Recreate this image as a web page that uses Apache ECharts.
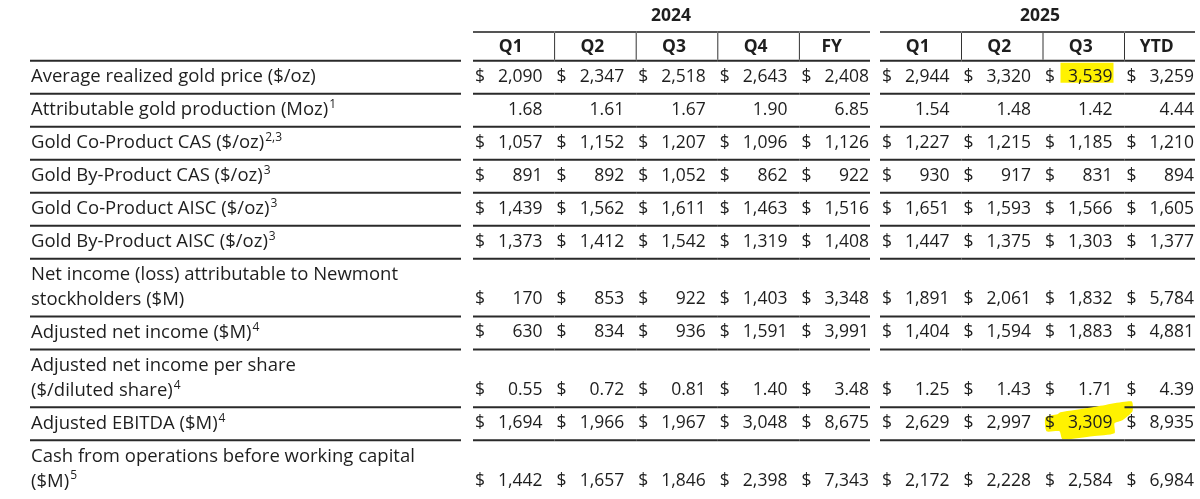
<!DOCTYPE html>
<html>
<head>
<meta charset="utf-8">
<script src="https://cdn.jsdelivr.net/npm/echarts@6/dist/echarts.min.js"></script>
<style>
  html, body { margin: 0; padding: 0; background: #fff; }
  #main { width: 1200px; height: 499px; }
</style>
</head>
<body>
<div id="main"></div>
<script>
// row labels + footnote marks
var rowLabels = [
  'Average realized gold price ($/oz)',
  'Attributable gold production (Moz)',
  'Gold Co-Product CAS ($/oz)',
  'Gold By-Product CAS ($/oz)',
  'Gold Co-Product AISC ($/oz)',
  'Gold By-Product AISC ($/oz)',
  'Net income (loss) attributable to Newmont\nstockholders ($M)',
  'Adjusted net income ($M)',
  'Adjusted net income per share\n($/diluted share)',
  'Adjusted EBITDA ($M)',
  'Cash from operations before working capital\n($M)'
];
var rowNotes = ['', '1', '2,3', '3', '3', '3', '', '4', '4', '4', '5'];
var rowDollar = [1, 0, 1, 1, 1, 1, 1, 1, 1, 1, 1];
var rowDecimals = [0, 2, 0, 0, 0, 0, 0, 0, 2, 0, 0];

var years = ['2024', '2025'];
var cols2024 = ['Q1', 'Q2', 'Q3', 'Q4', 'FY'];
var cols2025 = ['Q1', 'Q2', 'Q3', 'YTD'];

var q1_2024 = [2090, 1.68, 1057, 891, 1439, 1373, 170, 630, 0.55, 1694, 1442];
var q2_2024 = [2347, 1.61, 1152, 892, 1562, 1412, 853, 834, 0.72, 1966, 1657];
var q3_2024 = [2518, 1.67, 1207, 1052, 1611, 1542, 922, 936, 0.81, 1967, 1846];
var q4_2024 = [2643, 1.90, 1096, 862, 1463, 1319, 1403, 1591, 1.40, 3048, 2398];
var fy_2024 = [2408, 6.85, 1126, 922, 1516, 1408, 3348, 3991, 3.48, 8675, 7343];

var q1_2025 = [2944, 1.54, 1227, 930, 1651, 1447, 1891, 1404, 1.25, 2629, 2172];
var q2_2025 = [3320, 1.48, 1215, 917, 1593, 1375, 2061, 1594, 1.43, 2997, 2228];
var q3_2025 = [3539, 1.42, 1185, 831, 1566, 1303, 1832, 1883, 1.71, 3309, 2584];
var ytd_2025 = [3259, 4.44, 1210, 894, 1605, 1377, 5784, 4881, 4.39, 8935, 6984];

// highlighted cells: [year, column, row]
var marked = [['2025', 'Q3', 0], ['2025', 'Q3', 9]];

var vals2024 = [q1_2024, q2_2024, q3_2024, q4_2024, fy_2024];
var vals2025 = [q1_2025, q2_2025, q3_2025, ytd_2025];

var FONT = '17.5px "Open Sans"';
var LFONT = '18.5px "Open Sans"';
var INK = '#1e1e1e';
var RULE = '#2a2a2a';

// row heights in units (two-line rows are taller)
var HEAD_U = 0.87, PX_U = 33;
var rowTop = [], rowBot = [];
var acc = HEAD_U;
rowLabels.forEach(function (l) {
  var h = l.indexOf('\n') >= 0 ? 1.75 : 1;
  rowTop.push(acc);
  acc += h;
  rowBot.push(acc);
});
var totalU = acc;

function fmt(v, r) {
  return rowDecimals[r] ? v.toFixed(rowDecimals[r]) : v.toLocaleString('en-US');
}

function line(x1, y1, x2, y2, color, w) {
  return { type: 'line', shape: { x1: x1, y1: y1, x2: x2, y2: y2 },
    style: { stroke: color, lineWidth: w || 2 } };
}

function txt(s, x, y, align, font, extra) {
  var st = { text: s, x: x, y: y, fill: INK, font: font, align: align, verticalAlign: 'middle',
    textAlign: align, textVerticalAlign: 'middle' };
  return { type: 'text', style: Object.assign(st, extra || {}) };
}

function cellData(n) {
  var d = [];
  for (var c = 0; c < n; c++) {
    d.push([c, 0, HEAD_U, -1]);
    for (var r = 0; r < rowLabels.length; r++) d.push([c, rowTop[r], rowBot[r], r]);
  }
  return d;
}

function groupRender(year, cols, vals) {
  return function (params, api) {
    var c = api.value(0), r = api.value(3);
    var pt = api.coord([c, api.value(1)]);
    var pb = api.coord([c, api.value(2)]);
    var bw = api.size([1, 0])[0];
    var x0 = pt[0] - bw / 2, x1 = pt[0] + bw / 2;
    var last = c === cols.length - 1;
    var xe = last ? x1 - 11 : x1;
    var kids = [];
    if (r < 0) {
      kids.push(line(x0, pt[1], xe, pt[1], '#555'));
      kids.push(line(x0, pb[1], xe, pb[1], RULE));
      if (c > 0) kids.push(line(x0, pt[1] + 1, x0, pb[1] - 1, '#333', 1));
      kids.push(txt(cols[c], (x0 + xe) / 2 - 3, (pt[1] + pb[1]) / 2 + 1, 'center', 'bold 17.5px "Open Sans"'));
    } else {
      var yc = pb[1] - 17;
      var nr = x1 - 12;
      marked.forEach(function (m, k) {
        if (m[0] !== year || m[1] !== cols[c] || m[2] !== r) return;
        if (k === 0) {
          kids.push({ type: 'rect', shape: { x: nr - 52, y: yc - 14, width: 53, height: 20 },
            style: { fill: '#fff200' } });
        } else {
          var pts = [[-52, -11], [-20, -16], [19, -22], [20, -12], [10, -3], [2, 0], [2, 10],
            [-20, 13], [-50, 16], [-53, 8], [-66, 8], [-67, -6], [-55, -9]];
          kids.push({ type: 'polygon', shape: { points: pts.map(function (p) { return [nr + p[0], yc + p[1]]; }), smooth: 0.2 },
            style: { fill: '#fff200' } });
        }
      });
      if (rowDollar[r]) kids.push(txt('$', x0 + 2, yc, 'left', FONT));
      kids.push(txt(fmt(vals[c][r], r), nr, yc, 'right', FONT));
      if (r < rowLabels.length - 1) kids.push(line(x0, pb[1], xe, pb[1], RULE));
    }
    return { type: 'group', children: kids };
  };
}

function labelRender(params, api) {
  var r = api.value(3);
  var cs = params.coordSys;
  var pb = api.coord([0, api.value(2)]);
  var kids = [];
  if (r < 0) {
    kids.push(line(cs.x, pb[1], cs.x + cs.width, pb[1], RULE));
  } else {
    var s = rowLabels[r] + (rowNotes[r] ? '{s|' + rowNotes[r] + '}' : '');
    kids.push(txt(s, cs.x + 1, pb[1] - 4, 'left', LFONT, {
      verticalAlign: 'bottom', textVerticalAlign: 'bottom', lineHeight: 25,
      rich: { s: { fontSize: 12, fontFamily: 'Open Sans', fill: INK, verticalAlign: 'top', lineHeight: 25, padding: [1, 0, 0, 1] } }
    }));
    if (r < rowLabels.length - 1) kids.push(line(cs.x, pb[1], cs.x + cs.width, pb[1], RULE));
  }
  return { type: 'group', children: kids };
}

var gridH = totalU * PX_U;
var chart = echarts.init(document.getElementById('main'));

function yearAxis(idx, cats, name, pad) {
  return {
    gridIndex: idx, type: 'category', data: cats, position: 'top',
    name: name, nameLocation: 'middle', nameGap: 7,
    nameTextStyle: { fontWeight: 'bold', fontSize: 17.5, color: INK, fontFamily: 'Open Sans', padding: pad },
    axisLine: { show: false }, axisTick: { show: false }, axisLabel: { show: false }, splitLine: { show: false }
  };
}

function rowAxis(idx) {
  return { gridIndex: idx, type: 'value', inverse: true, min: 0, max: totalU, show: false };
}

chart.setOption({
  animation: false,
  backgroundColor: '#fff',
  grid: [
    { left: 30, top: 32, width: 431, height: gridH, outerBoundsMode: 'none' },
    { left: 473, top: 32, width: 408, height: gridH, outerBoundsMode: 'none' },
    { left: 880, top: 32, width: 326, height: gridH, outerBoundsMode: 'none' }
  ],
  xAxis: [
    { gridIndex: 0, type: 'category', data: [''], show: false },
    yearAxis(1, cols2024, years[0], [0, 12, 0, 0]),
    yearAxis(2, cols2025, years[1], [0, 6, 0, 0])
  ],
  yAxis: [rowAxis(0), rowAxis(1), rowAxis(2)],
  series: [
    { type: 'custom', xAxisIndex: 0, yAxisIndex: 0, renderItem: labelRender, data: cellData(1),
      encode: { x: 0, y: [1, 2] }, clip: false, silent: true },
    { type: 'custom', xAxisIndex: 1, yAxisIndex: 1, renderItem: groupRender(years[0], cols2024, vals2024),
      data: cellData(cols2024.length), encode: { x: 0, y: [1, 2] }, clip: false, silent: true },
    { type: 'custom', xAxisIndex: 2, yAxisIndex: 2, renderItem: groupRender(years[1], cols2025, vals2025),
      data: cellData(cols2025.length), encode: { x: 0, y: [1, 2] }, clip: false, silent: true }
  ]
});
</script>
</body>
</html>
